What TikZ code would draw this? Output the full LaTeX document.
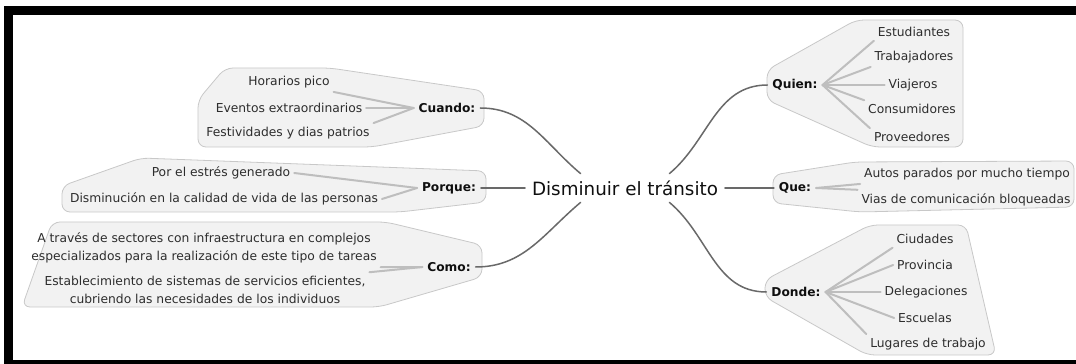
\documentclass[tikz,border=0pt]{standalone}
\usepackage{fontspec}
\setmainfont{DejaVu Sans}
\usepackage{tikz}

\begin{document}
\begin{tikzpicture}[x=1pt,y=1pt,
  hub/.style={text=labelColor,font=\fontsize{18.3}{20}\selectfont,inner sep=2pt,outer sep=5pt},
  topic/.style={text=labelColor,font=\bfseries\fontsize{12.2}{14}\selectfont,inner sep=2pt,outer sep=3pt},
  leaf/.style={text=leafColor,font=\fontsize{12.3}{18}\selectfont,inner sep=2pt,outer sep=2pt,align=center},
  frame/.style={draw=boxLine,fill=boxFill,line width=0.8pt,rounded corners=8pt,line join=round},
  twig/.style={draw=twigColor,line width=2pt,line cap=round},
  branch/.style={draw=branchColor,line width=1.5pt,line cap=round}]
\definecolor{boxFill}{RGB}{242,242,242}
\definecolor{boxLine}{RGB}{200,200,200}
\definecolor{twigColor}{RGB}{190,190,190}
\definecolor{branchColor}{RGB}{105,105,105}
\definecolor{leafColor}{RGB}{45,45,45}
\definecolor{labelColor}{RGB}{15,15,15}
\path[use as bounding box] (0,0) rectangle (1076,364);

% black frame of the picture
\path[fill=black] (4,0) rectangle (1076,358);
\path[fill=white] (13,4) rectangle (1076,349);

% boundaries round each branch
\path[frame] (225,296) -- (330,296) -- (484,273) -- (484,238) -- (372,217) -- (198,217) -- (198,264) -- cycle;
\path[frame] (62,178) -- (141,206) -- (486,193) -- (486,162) -- (400,152) -- (62,152) -- cycle;
\path[frame] (52,142) -- (386,142) -- (482,119) -- (482,87) -- (379,57) -- (22,57) -- cycle;
\path[frame] (767,294) -- (856,344) -- (963,344) -- (963,217) -- (872,217) -- (767,264) -- cycle;
\path[frame] (773,189) -- (855,202) -- (1074,203) -- (1074,157) -- (860,152) -- (773,161) -- cycle;
\path[frame] (765,84) -- (870,139) -- (966,139) -- (996,9) -- (867,9) -- (765,67) -- cycle;

% central topic
\node[hub] (disminuir) at (625,176) {Disminuir el tránsito};

% left side
\node[topic] (cuando) at (447,256) {Cuando:};
\node[leaf] (horarios) at (289,282) {Horarios pico};
\node[leaf] (eventos) at (289,256) {Eventos extraordinarios};
\node[leaf] (festividades) at (288,231) {Festividades y dias patrios};

\node[topic] (porque) at (449,176) {Porque:};
\node[leaf] (estres) at (221,191) {Por el estrés generado};
\node[leaf] (calidad) at (224,165) {Disminución en la calidad de vida de las personas};

\node[topic] (como) at (449,97) {Como:};
\node[leaf] (sectores) at (204,116) {A través de sectores con infraestructura en complejos\\especializados para la realización de este tipo de tareas};
\node[leaf] (servicios) at (205,74) {Establecimiento de sistemas de servicios eficientes,\\cubriendo las necesidades de los individuos};

% right side
\node[topic] (quien) at (795,279) {Quien:};
\node[leaf] (estudiantes) at (914,332) {Estudiantes};
\node[leaf] (trabajadores) at (914,307) {Trabajadores};
\node[leaf] (viajeros) at (913,279) {Viajeros};
\node[leaf] (consumidores) at (912,255) {Consumidores};
\node[leaf] (proveedores) at (912,227) {Proveedores};

\node[topic] (que) at (795,176) {Que:};
\node[leaf] (autos) at (967,190) {Autos parados por mucho tiempo};
\node[leaf] (vias) at (966,164) {Vias de comunicación bloqueadas};

\node[topic] (donde) at (796,72) {Donde:};
\node[leaf] (ciudades) at (925,125) {Ciudades};
\node[leaf] (provincia) at (925,99) {Provincia};
\node[leaf] (delegaciones) at (926,72) {Delegaciones};
\node[leaf] (escuelas) at (925,46) {Escuelas};
\node[leaf] (lugares) at (928,20) {Lugares de trabajo};

% branches from the centre
\path[branch] (cuando.east) to[out=0,in=140] (disminuir.162);
\path[branch] (porque.east) -- (disminuir.west);
\path[branch] (como.east) to[out=0,in=220] (disminuir.198);
\path[branch] (disminuir.18) to[out=40,in=180] (quien.west);
\path[branch] (disminuir.east) -- (que.west);
\path[branch] (disminuir.342) to[out=-40,in=180] (donde.west);

% twigs to the leaves
\path[twig] (cuando.west) -- (horarios.south east);
\path[twig] (cuando.west) -- (eventos.east);
\path[twig] (cuando.west) -- (festividades.north east);
\path[twig] (porque.west) -- (estres.east);
\path[twig] (porque.west) -- (calidad.east);
\path[twig] (como.west) -- (sectores.south east);
\path[twig] (como.west) -- (servicios.north east);
\path[twig] (quien.east) -- (estudiantes.south west);
\path[twig] (quien.east) -- (trabajadores.south west);
\path[twig] (quien.east) -- (viajeros.west);
\path[twig] (quien.east) -- (consumidores.north west);
\path[twig] (quien.east) -- (proveedores.north west);
\path[twig] (que.east) -- (autos.south west);
\path[twig] (que.east) -- (vias.north west);
\path[twig] (donde.east) -- (ciudades.south west);
\path[twig] (donde.east) -- (provincia.west);
\path[twig] (donde.east) -- (delegaciones.west);
\path[twig] (donde.east) -- (escuelas.west);
\path[twig] (donde.east) -- (lugares.north west);
\end{tikzpicture}
\end{document}
